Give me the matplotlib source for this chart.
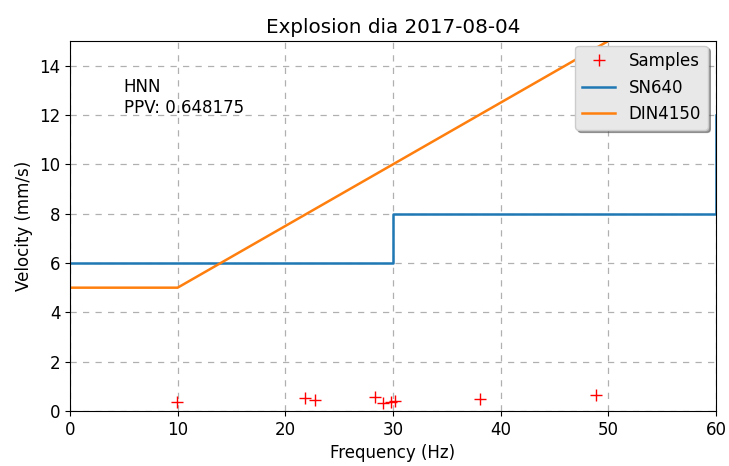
import matplotlib
matplotlib.use("Agg")
import matplotlib.pyplot as plt

sample_freq = [9.9, 21.8, 22.8, 28.3, 29.1, 29.8, 30.2, 38.1, 48.9]
sample_ppv = [0.36, 0.52, 0.43, 0.58, 0.31, 0.38, 0.42, 0.47, 0.648175]

sn640_freq = [0, 30, 30, 60, 60]
sn640_vel = [6, 6, 8, 8, 12]

din_freq = [0, 10, 50, 60]
din_vel = [5, 5, 15, 20]

plt.rcParams['font.size'] = 12
fig = plt.figure(figsize=(7.29, 4.66), dpi=100)
ax = fig.add_axes([0.096, 0.118, 0.886, 0.794])
ax.plot(sample_freq, sample_ppv, '+', color='red', markersize=8, label='Samples')
ax.plot(sn640_freq, sn640_vel, color='#1f77b4', linewidth=1.8, label='SN640')
ax.plot(din_freq, din_vel, color='#ff7f0e', linewidth=1.8, label='DIN4150')
ax.set_xlim(0, 60)
ax.set_ylim(0, 15)
ax.set_xticks(range(0, 61, 10))
ax.set_yticks(range(0, 15, 2))
ax.grid(True, linestyle=(0, (5, 5)), color='#b0b0b0', linewidth=0.9)
ax.set_title('Explosion dia 2017-08-04', fontsize=14.3)
ax.set_xlabel('Frequency (Hz)')
ax.set_ylabel('Velocity (mm/s)')
ax.text(5, 12.1, 'HNN\nPPV: 0.648175', fontsize=12)
leg = ax.legend(loc='upper right', bbox_to_anchor=(1.0, 1.01), shadow=True, fancybox=True,
                facecolor='#e8e8e8', framealpha=1, edgecolor='#cccccc', fontsize=12)
fig.savefig('out.png', dpi=100)
